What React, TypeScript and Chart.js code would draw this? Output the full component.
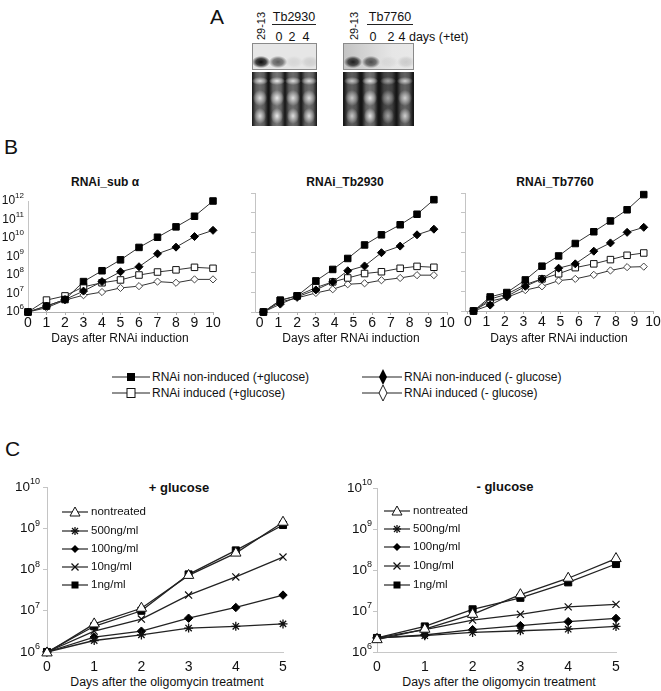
import React, { useEffect, useRef } from 'react';
import { Chart, registerables } from 'chart.js';

Chart.register(...registerables);

const FONT = "'Liberation Sans', Arial, Helvetica, sans-serif";
Chart.defaults.font.family = FONT;
Chart.defaults.color = '#111';

// ---------------- Panel A: northern blot signal (relative) ----------------
const blotTb2930Band = [0.95, 0.6, 0.07, 0.1];
const blotTb2930Rrna = [0.9, 1.0, 0.9, 0.9];
const blotTb7760Band = [0.85, 0.65, 0.05, 0.12];
const blotTb7760Rrna = [0.75, 0.95, 0.55, 0.8];

// ---------------- Panel B data ----------------
const bXTicks = [0, 1, 2, 3, 4, 5, 6, 7, 8, 9, 10];
const bXTickLabels = ['0', '1', '2', '3', '4', '5', '6', '7', '8', '9', '10'];
const bYTicks = [1e6, 1e7, 1e8, 1e9, 1e10, 1e11, 1e12];
const bYTickExps = ['6', '7', '8', '9', '10', '11', '12'];
const bLegendLabels = [
  'RNAi non-induced (+glucose)',
  'RNAi induced (+glucose)',
  'RNAi non-induced (- glucose)',
  'RNAi induced (- glucose)',
];

// RNAi_sub alpha
const subaDays = [0, 1, 2, 3, 4, 5, 6, 7, 8, 9, 10];
const subaNonIndGlc = [1e6, 2.1e6, 4.7e6, 4.4e7, 1.7e8, 6.6e8, 3.1e9, 1.1e10, 4.0e10, 1.5e11, 1.0e12];
const subaIndGlc = [1e6, 4.4e6, 7.4e6, 2.3e7, 3.8e7, 5.4e7, 1.0e8, 1.45e8, 1.9e8, 2.6e8, 2.3e8];
const subaNonIndNoGlc = [1e6, 2.1e6, 4.7e6, 1.35e7, 4.4e7, 1.5e8, 2.8e8, 1.4e9, 3.2e9, 1.2e10, 2.6e10];
const subaIndNoGlc = [1e6, 1.7e6, 4.4e6, 8.1e6, 1.2e7, 2.0e7, 2.5e7, 4.4e7, 3.8e7, 5.8e7, 5.8e7];

// RNAi_Tb2930
const tb2930Days = [0.2, 1.1, 2.0, 3.0, 3.9, 4.7, 5.6, 6.5, 7.5, 8.4, 9.3];
const tb2930NonIndGlc = [1e6, 3.9e6, 6.5e6, 3.7e7, 1.4e8, 5.0e8, 2.4e9, 7.8e9, 2.5e10, 8.5e10, 4.6e11];
const tb2930IndGlc = [1e6, 3.9e6, 6.5e6, 1.7e7, 3.3e7, 5.2e7, 8.7e7, 1.07e8, 1.6e8, 2.0e8, 1.8e8];
const tb2930NonIndNoGlc = [1e6, 2.5e6, 5.8e6, 1.3e7, 3.3e7, 1.2e8, 2.1e8, 9.8e8, 2.1e9, 7.8e9, 1.5e10];
const tb2930IndNoGlc = [1e6, 3.2e6, 5.1e6, 9.1e6, 1.4e7, 2.5e7, 2.8e7, 4.0e7, 5.2e7, 7.2e7, 7.2e7];

// RNAi_Tb7760
const tb7760Days = [0.3, 1.2, 2.1, 3.1, 4.0, 4.9, 5.8, 6.8, 7.7, 8.6, 9.5];
const tb7760NonIndGlc = [1e6, 5.2e6, 8.7e6, 3.8e7, 1.9e8, 6.3e8, 2.7e9, 1.07e10, 3.8e10, 1.4e11, 8.3e11];
const tb7760IndGlc = [1e6, 4.0e6, 7.2e6, 2.2e7, 4.3e7, 7.8e7, 1.6e8, 2.5e8, 4.1e8, 6.8e8, 8.9e8];
const tb7760NonIndNoGlc = [1e6, 2.0e6, 5.5e6, 1.8e7, 4.3e7, 1.5e8, 2.5e8, 1.1e9, 2.9e9, 1.0e10, 1.8e10];
const tb7760IndNoGlc = [1e6, 3.2e6, 4.9e6, 1.15e7, 1.8e7, 3.5e7, 4.3e7, 6.9e7, 1.15e8, 1.7e8, 1.8e8];

// ---------------- Panel C data ----------------
const cDays = [0, 1, 2, 3, 4, 5];
const cXTickLabels = ['0', '1', '2', '3', '4', '5'];
const cYTicks = [1e6, 1e7, 1e8, 1e9, 1e10];
const cYTickExps = ['6', '7', '8', '9', '10'];
const cSeriesNames = ['nontreated', '500ng/ml', '100ng/ml', '10ng/ml', '1ng/ml'];

const glcNontreated = [0.95e6, 4.8e6, 1.15e7, 7.2e7, 2.5e8, 1.4e9];
const glc500 = [1e6, 1.9e6, 2.6e6, 3.8e6, 4.2e6, 4.8e6];
const glc100 = [1e6, 2.3e6, 3.2e6, 6.6e6, 1.2e7, 2.4e7];
const glc10 = [1e6, 3.2e6, 6.3e6, 2.4e7, 6.6e7, 2.0e8];
const glc1 = [1e6, 4.2e6, 1.0e7, 7.6e7, 2.9e8, 1.2e9];

const noGlcNontreated = [2.0e6, 3.6e6, 8.3e6, 2.5e7, 6.3e7, 1.9e8];
const noGlc500 = [2.2e6, 2.5e6, 3.0e6, 3.3e6, 3.6e6, 4.2e6];
const noGlc100 = [2.2e6, 2.6e6, 3.5e6, 4.4e6, 5.5e6, 6.6e6];
const noGlc10 = [2.2e6, 3.5e6, 6.0e6, 8.3e6, 1.26e7, 1.45e7];
const noGlc1 = [2.2e6, 4.2e6, 1.1e7, 2.1e7, 5.0e7, 1.4e8];

// ---------------- styles ----------------
const stFilledSquare = { pointStyle: 'rect', pointRadius: 4.6, pointBackgroundColor: '#000', pointBorderColor: '#000', pointBorderWidth: 1 };
const stOpenSquare = { pointStyle: 'rect', pointRadius: 4.6, pointBackgroundColor: '#fff', pointBorderColor: '#111', pointBorderWidth: 1 };
const stFilledDiamond = { pointStyle: 'rectRot', pointRadius: 4, pointBackgroundColor: '#000', pointBorderColor: '#000', pointBorderWidth: 1 };
const stOpenDiamond = { pointStyle: 'rectRot', pointRadius: 3.6, pointBackgroundColor: '#fff', pointBorderColor: '#444', pointBorderWidth: 1 };

const cStyles: any[] = [
  { pointStyle: 'triangle', pointRadius: 6, pointBackgroundColor: '#fff', pointBorderColor: '#111', pointBorderWidth: 1 },
  { pointStyle: 'star', pointRadius: 4.5, pointBackgroundColor: '#111', pointBorderColor: '#111', pointBorderWidth: 1.3 },
  { pointStyle: 'rectRot', pointRadius: 4.2, pointBackgroundColor: '#000', pointBorderColor: '#000', pointBorderWidth: 1 },
  { pointStyle: 'crossRot', pointRadius: 5, pointBackgroundColor: '#111', pointBorderColor: '#111', pointBorderWidth: 1.2 },
  { pointStyle: 'rect', pointRadius: 5, pointBackgroundColor: '#000', pointBorderColor: '#000', pointBorderWidth: 1 },
];

function series(xs: number[], ys: number[], style: any, label: string, color = '#333', width = 1) {
  return {
    label,
    data: xs.map((x, i) => ({ x, y: ys[i] })),
    borderColor: color,
    borderWidth: width,
    fill: false,
    tension: 0,
    clip: false,
    ...style,
  };
}

function makePowerLabels(exps: string[] | null, base: number, expSize: number, gap: number, raise: number) {
  return {
    id: 'powerLabels',
    afterDraw(chart: any) {
      if (!exps) return;
      const y = chart.scales.y;
      const ctx = chart.ctx;
      ctx.save();
      ctx.fillStyle = '#111';
      y.ticks.forEach((t: any, i: number) => {
        const py = y.getPixelForValue(t.value);
        const x = chart.chartArea.left - gap;
        const e = exps[i];
        ctx.font = `${expSize}px ${FONT}`;
        const ew = ctx.measureText(e).width;
        ctx.textAlign = 'left';
        ctx.textBaseline = 'middle';
        ctx.fillText(e, x - ew, py - raise);
        ctx.font = `${base}px ${FONT}`;
        ctx.textAlign = 'right';
        ctx.fillText('10', x - ew, py);
      });
      ctx.restore();
    },
  };
}

function buildConfig(p: any) {
  return {
    type: 'line',
    data: { datasets: p.datasets },
    options: {
      responsive: false,
      animation: false,
      devicePixelRatio: 1,
      layout: { padding: p.padding },
      plugins: { legend: { display: false }, tooltip: { enabled: false }, title: { display: false } },
      scales: {
        x: {
          type: 'linear',
          min: p.xMin,
          max: p.xMax,
          afterBuildTicks: (s: any) => { s.ticks = p.xTicks.map((v: number) => ({ value: v })); },
          afterFit: (s: any) => { s.height = p.xAxisHeight; s.paddingLeft = 0; s.paddingRight = 0; },
          ticks: {
            callback: (_v: any, i: number) => p.xTickLabels[i],
            font: { size: p.xTickFont },
            color: '#111',
            padding: p.xTickPad,
            autoSkip: false,
            maxRotation: 0,
            minRotation: 0,
          },
          grid: { display: p.xTickMarks, drawOnChartArea: false, drawTicks: p.xTickMarks, tickLength: 3, color: p.xAxisColor },
          border: { display: true, color: p.xAxisColor, width: 1 },
        },
        y: {
          type: 'logarithmic',
          min: p.yMin,
          max: p.yMax,
          afterBuildTicks: (s: any) => { s.ticks = p.yTicks.map((v: number) => ({ value: v })); },
          afterFit: (s: any) => { s.width = p.yAxisWidth; s.paddingTop = 0; s.paddingBottom = 0; },
          ticks: { display: false },
          grid: { display: p.yTickMarks, drawOnChartArea: false, drawTicks: p.yTickMarks, tickLength: 4, color: p.yAxisColor },
          border: { display: true, color: p.yAxisColor, width: 1 },
        },
      },
    },
    plugins: [makePowerLabels(p.yExps, p.yBase, p.yExp, p.yGap, p.yRaise)],
  };
}

function ChartBox({ left, top, width, height, make }: any) {
  const ref = useRef<HTMLCanvasElement>(null);
  useEffect(() => {
    const chart = new Chart(ref.current as HTMLCanvasElement, make() as any);
    return () => chart.destroy();
  }, []);
  return (
    <canvas
      ref={ref}
      width={width}
      height={height}
      style={{ position: 'absolute', left, top, width, height }}
    />
  );
}

function bDatasets(xs: number[], a: number[], b: number[], c: number[], d: number[]) {
  return [
    series(xs, a, stFilledSquare, bLegendLabels[0]),
    series(xs, c, stFilledDiamond, bLegendLabels[2]),
    series(xs, b, stOpenSquare, bLegendLabels[1]),
    series(xs, d, stOpenDiamond, bLegendLabels[3]),
  ];
}

function cDatasets(vals: number[][]) {
  return vals.map((v, i) => series(cDays, v, cStyles[i], cSeriesNames[i], '#222', 1.3));
}

const bCommon = {
  xTicks: bXTicks,
  xTickLabels: bXTickLabels,
  xMax: 10,
  yMin: 1e6,
  yMax: 1e12,
  yTicks: bYTicks,
  xAxisHeight: 18,
  xTickFont: 14,
  xTickPad: 0,
  xTickMarks: true,
  xAxisColor: '#b0b0b0',
  yAxisColor: '#c4c4c4',
};

const cCommon = {
  xTicks: cDays,
  xTickLabels: cXTickLabels,
  xMin: 0,
  xMax: 5,
  yMin: 1e6,
  yMax: 1e10,
  yTicks: cYTicks,
  yExps: cYTickExps,
  yAxisWidth: 47,
  xAxisHeight: 20,
  xTickFont: 14,
  xTickPad: 7,
  xTickMarks: false,
  xAxisColor: '#c8c8c8',
  yTickMarks: true,
  yAxisColor: '#c4c4c4',
  yBase: 13.5,
  yExp: 9,
  yRaise: 5,
};

function Txt({ x, y, children, size = 12, bold = false, align = 'center', rotate = 0 }: any) {
  const tx = align === 'center' ? '-50%' : align === 'right' ? '-100%' : '0%';
  return (
    <div
      style={{
        position: 'absolute',
        left: x,
        top: y,
        transform: `translate(${tx},-50%)` + (rotate ? ` rotate(${rotate}deg)` : ''),
        fontSize: size,
        fontWeight: bold ? 'bold' : 'normal',
        lineHeight: 1,
        whiteSpace: 'nowrap',
        fontFamily: FONT,
        color: '#111',
      }}
    >
      {children}
    </div>
  );
}

function Blot({ left, width, laneX, band, rrna, upperBg }: any) {
  const top = 43;
  return (
    <>
      <div
        style={{
          position: 'absolute', left, top, width, height: 27, background: upperBg,
          boxSizing: 'border-box', border: '1px solid #8a8a8a', overflow: 'hidden',
        }}
      >
        {laneX.map((lx: number, i: number) => (
          <div
            key={i}
            style={{
              position: 'absolute', left: lx - left - 9, top: 12, width: 18, height: 12,
              background: `radial-gradient(ellipse at 50% 50%, rgba(0,0,0,${band[i]}) 0%, rgba(0,0,0,${band[i] * 0.75}) 40%, rgba(0,0,0,0) 72%)`,
            }}
          />
        ))}
      </div>
      <div style={{ position: 'absolute', left, top: 70, width, height: 2, background: '#fff' }} />
      <div style={{ position: 'absolute', left, top: 72, width, height: 54, background: '#161616', overflow: 'hidden' }}>
        {laneX.map((lx: number, i: number) => {
          const a = rrna[i];
          const blob = (yy: number, rx: number, ry: number) =>
            `radial-gradient(ellipse ${rx}px ${ry}px at 50% ${yy}px, rgba(235,235,235,${a}) 0%, rgba(185,185,185,${a * 0.8}) 50%, rgba(120,120,120,0) 100%)`;
          return (
            <div
              key={i}
              style={{
                position: 'absolute', left: lx - left - 8, top: 0, width: 16, height: 54,
                background: [
                  blob(9, 8, 4),
                  blob(26, 7, 8),
                  blob(44, 6, 8),
                  `linear-gradient(to right, rgba(90,90,90,0) 0%, rgba(125,125,125,${a * 0.75}) 25%, rgba(150,150,150,${a * 0.75}) 50%, rgba(125,125,125,${a * 0.75}) 75%, rgba(90,90,90,0) 100%)`,
                ].join(','),
              }}
            />
          );
        })}
      </div>
    </>
  );
}

function Marker({ kind, cx, cy }: any) {
  switch (kind) {
    case 'filledSquare':
      return <rect x={cx - 4} y={cy - 4} width={8} height={8} fill="#000" />;
    case 'openSquare':
      return <rect x={cx - 4} y={cy - 4.5} width={8} height={9} fill="#fff" stroke="#111" strokeWidth={1} />;
    case 'filledDiamondTall':
      return <polygon points={`${cx},${cy - 8} ${cx + 4},${cy} ${cx},${cy + 8} ${cx - 4},${cy}`} fill="#000" />;
    case 'openDiamondTall':
      return <polygon points={`${cx},${cy - 8} ${cx + 4},${cy} ${cx},${cy + 8} ${cx - 4},${cy}`} fill="#fff" stroke="#222" strokeWidth={1} />;
    case 'triangle':
      return <polygon points={`${cx},${cy - 5} ${cx + 5},${cy + 4} ${cx - 5},${cy + 4}`} fill="#fff" stroke="#111" strokeWidth={1} />;
    case 'star':
      return (
        <g stroke="#111" strokeWidth={1.3}>
          <line x1={cx - 4} y1={cy} x2={cx + 4} y2={cy} />
          <line x1={cx} y1={cy - 4} x2={cx} y2={cy + 4} />
          <line x1={cx - 3} y1={cy - 3} x2={cx + 3} y2={cy + 3} />
          <line x1={cx - 3} y1={cy + 3} x2={cx + 3} y2={cy - 3} />
        </g>
      );
    case 'diamond':
      return <polygon points={`${cx},${cy - 4} ${cx + 4},${cy} ${cx},${cy + 4} ${cx - 4},${cy}`} fill="#000" />;
    case 'cross':
      return (
        <g stroke="#111" strokeWidth={1.2}>
          <line x1={cx - 3.5} y1={cy - 3.5} x2={cx + 3.5} y2={cy + 3.5} />
          <line x1={cx - 3.5} y1={cy + 3.5} x2={cx + 3.5} y2={cy - 3.5} />
        </g>
      );
    case 'square':
      return <rect x={cx - 3.5} y={cy - 3.5} width={7} height={7} fill="#000" />;
    default:
      return null;
  }
}

const cMarkerKinds = ['triangle', 'star', 'diamond', 'cross', 'square'];
const c1LegendRows = [512, 531, 549, 567, 585];
const c2LegendRows = [511, 529, 547, 566, 585];

export default function App() {
  const bLeg = [
    { x0: 112, x1: 150, mx: 131, tx: 152, y: 377, kind: 'filledSquare', label: bLegendLabels[0] },
    { x0: 112, x1: 150, mx: 131, tx: 152, y: 393, kind: 'openSquare', label: bLegendLabels[1] },
    { x0: 362, x1: 402, mx: 383, tx: 404, y: 377, kind: 'filledDiamondTall', label: bLegendLabels[2] },
    { x0: 362, x1: 402, mx: 383, tx: 404, y: 393, kind: 'openDiamondTall', label: bLegendLabels[3] },
  ];
  return (
    <div
      style={{
        position: 'absolute', left: 0, top: 0, width: 661, height: 691, background: '#fff',
        overflow: 'hidden', fontFamily: FONT, color: '#111',
      }}
    >
      {/* Panel A */}
      <Txt x={217} y={16} size={21}>A</Txt>
      <Txt x={261} y={26} size={11} rotate={-90}>29-13</Txt>
      <Txt x={294} y={17} size={12.5}>Tb2930</Txt>
      <Txt x={279} y={37} size={12.5}>0</Txt>
      <Txt x={292} y={37} size={12.5}>2</Txt>
      <Txt x={306} y={37} size={12.5}>4</Txt>
      <Txt x={354} y={26} size={11} rotate={-90}>29-13</Txt>
      <Txt x={390} y={17} size={12.5}>Tb7760</Txt>
      <Txt x={373} y={37} size={12.5}>0</Txt>
      <Txt x={391} y={37} size={12.5}>2</Txt>
      <Txt x={398.5} y={37} size={12.5} align="left">4 days (+tet)</Txt>
      <Blot left={252} width={65} laneX={[260, 277, 293, 309]} band={blotTb2930Band} rrna={blotTb2930Rrna} upperBg="#e6e6e6" />
      <Blot
        left={343}
        width={71}
        laneX={[352, 370, 388, 405]}
        band={blotTb7760Band}
        rrna={blotTb7760Rrna}
        upperBg="linear-gradient(to right, #c4c4c4 0%, #d8d8d8 40%, #e6e6e6 70%, #e8e8e8 100%)"
      />

      {/* Panel B */}
      <Txt x={11} y={146} size={21}>B</Txt>
      <Txt x={105} y={182} size={12} bold>RNAi_sub α</Txt>
      <Txt x={345} y={182} size={12} bold>RNAi_Tb2930</Txt>
      <Txt x={555} y={182} size={12} bold>RNAi_Tb7760</Txt>
      <ChartBox
        left={0}
        top={190}
        width={226}
        height={142}
        make={() =>
          buildConfig({
            ...bCommon,
            datasets: bDatasets(subaDays, subaNonIndGlc, subaIndGlc, subaNonIndNoGlc, subaIndNoGlc),
            xMin: 0,
            padding: { left: 0, right: 13, top: 11, bottom: 2 },
            yAxisWidth: 28,
            yExps: bYTickExps,
            yTickMarks: false,
            yBase: 12,
            yExp: 8,
            yGap: 4,
            yRaise: 5,
          })
        }
      />
      <ChartBox
        left={238}
        top={185}
        width={222}
        height={147}
        make={() =>
          buildConfig({
            ...bCommon,
            datasets: bDatasets(tb2930Days, tb2930NonIndGlc, tb2930IndGlc, tb2930NonIndNoGlc, tb2930IndNoGlc),
            xMin: -0.25,
            padding: { left: 0, right: 13, top: 8, bottom: 2 },
            yAxisWidth: 17,
            yExps: null,
            yTickMarks: true,
            yBase: 12,
            yExp: 8,
            yGap: 4,
            yRaise: 5,
          })
        }
      />
      <ChartBox
        left={448}
        top={185}
        width={213}
        height={146}
        make={() =>
          buildConfig({
            ...bCommon,
            datasets: bDatasets(tb7760Days, tb7760NonIndGlc, tb7760IndGlc, tb7760NonIndNoGlc, tb7760IndNoGlc),
            xMin: -0.16,
            padding: { left: 0, right: 8, top: 8, bottom: 2 },
            yAxisWidth: 17,
            yExps: null,
            yTickMarks: true,
            yBase: 12,
            yExp: 8,
            yGap: 4,
            yRaise: 5,
          })
        }
      />
      <Txt x={120} y={338} size={12}>Days after RNAi induction</Txt>
      <Txt x={351} y={338} size={12}>Days after RNAi induction</Txt>
      <Txt x={559} y={338} size={12}>Days after RNAi induction</Txt>
      {bLeg.map((l, i) => (
        <Txt key={i} x={l.tx} y={l.y} size={12} align="left">{l.label}</Txt>
      ))}

      {/* Panel C */}
      <Txt x={12.5} y={448} size={21}>C</Txt>
      <Txt x={179} y={487} size={13} bold>+ glucose</Txt>
      <Txt x={505} y={486} size={13} bold>- glucose</Txt>
      <ChartBox
        left={0}
        top={478}
        width={300}
        height={196}
        make={() =>
          buildConfig({
            ...cCommon,
            datasets: cDatasets([glcNontreated, glc500, glc100, glc10, glc1]),
            padding: { left: 0, right: 17, top: 9, bottom: 2 },
            yGap: 7,
          })
        }
      />
      <ChartBox
        left={330}
        top={478}
        width={303}
        height={196}
        make={() =>
          buildConfig({
            ...cCommon,
            datasets: cDatasets([noGlcNontreated, noGlc500, noGlc100, noGlc10, noGlc1]),
            padding: { left: 0, right: 17, top: 10, bottom: 2 },
            yGap: 5,
          })
        }
      />
      <Txt x={167} y={682} size={12.3}>Days after the oligomycin treatment</Txt>
      <Txt x={499} y={682} size={12.3}>Days after the oligomycin treatment</Txt>
      {cSeriesNames.map((n, i) => (
        <Txt key={'c1' + i} x={91} y={c1LegendRows[i]} size={11.5} align="left">{n}</Txt>
      ))}
      {cSeriesNames.map((n, i) => (
        <Txt key={'c2' + i} x={413} y={c2LegendRows[i]} size={11.5} align="left">{n}</Txt>
      ))}

      <svg width={661} height={691} style={{ position: 'absolute', left: 0, top: 0, pointerEvents: 'none' }}>
        <line x1={272} y1={24.5} x2={316} y2={24.5} stroke="#222" strokeWidth={1} />
        <line x1={367} y1={24.5} x2={413} y2={24.5} stroke="#222" strokeWidth={1} />
        {bLeg.map((l, i) => (
          <g key={i}>
            <line x1={l.x0} y1={l.y} x2={l.x1} y2={l.y} stroke="#222" strokeWidth={1.2} />
            <Marker kind={l.kind} cx={l.mx} cy={l.y} />
          </g>
        ))}
        {cMarkerKinds.map((k, i) => (
          <g key={'m1' + i}>
            <line x1={62} y1={c1LegendRows[i]} x2={88} y2={c1LegendRows[i]} stroke="#222" strokeWidth={1.2} />
            <Marker kind={k} cx={75} cy={c1LegendRows[i]} />
          </g>
        ))}
        {cMarkerKinds.map((k, i) => (
          <g key={'m2' + i}>
            <line x1={384} y1={c2LegendRows[i]} x2={410} y2={c2LegendRows[i]} stroke="#222" strokeWidth={1.2} />
            <Marker kind={k} cx={397} cy={c2LegendRows[i]} />
          </g>
        ))}
      </svg>
    </div>
  );
}
